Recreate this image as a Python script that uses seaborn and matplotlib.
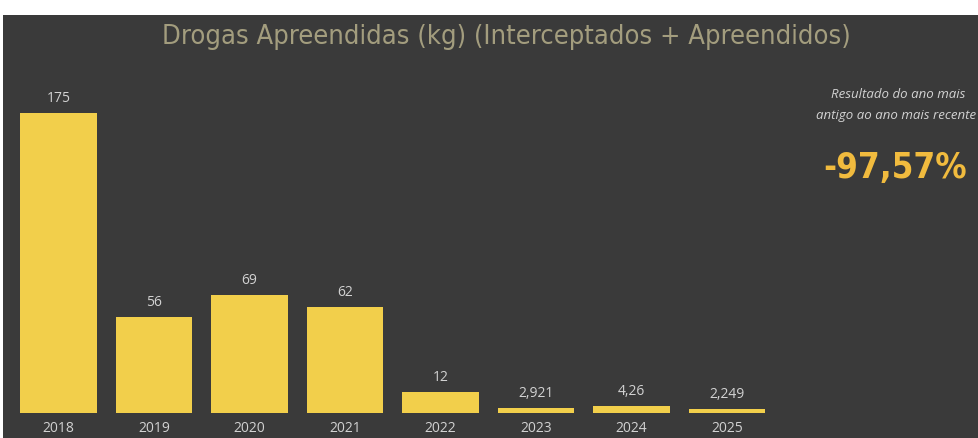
import matplotlib
matplotlib.use("Agg")
import matplotlib.pyplot as plt
from matplotlib.patches import Rectangle
import seaborn as sns
import pandas as pd

# data
anos = ["2018", "2019", "2020", "2021", "2022", "2023", "2024", "2025"]
kg = [175, 56, 69, 62, 12, 2.921, 4.26, 2.249]
rotulos = ["175", "56", "69", "62", "12", "2,921", "4,26", "2,249"]
variacao = "-97,57%"

BG = "#3a3a3a"
BAR = "#f2cf4b"
TITLE_C = "#a39d7e"
LABEL_C = "#d2d2d2"
PCT_C = "#f1bb3e"

sns.set_style("dark")
plt.rcParams["font.family"] = ["Open Sans", "DejaVu Sans"]

W, H = 979, 438
fig = plt.figure(figsize=(W / 100, H / 100), dpi=100, facecolor="white")
fig.patches.append(Rectangle((3 / W, 0), 1, (H - 15) / H, transform=fig.transFigure,
                             facecolor=BG, edgecolor="none", zorder=-10))

ax = fig.add_axes([10.75 / W, 25 / H, 764 / W, 353 / H])
ax.set_facecolor(BG)

df = pd.DataFrame({"ano": anos, "kg": kg})
sns.barplot(data=df, x="ano", y="kg", color=BAR, saturation=1, width=0.8,
            linewidth=0, edgecolor="none", ax=ax)

ax.set_ylim(0, 206)
ax.set_xlim(-0.5, 7.5)
ax.bar_label(ax.containers[0], labels=rotulos, padding=5, color=LABEL_C, fontsize=10)

ax.set_xlabel("")
ax.set_ylabel("")
ax.set_yticks([])
ax.tick_params(axis="x", length=0, pad=6, labelcolor=LABEL_C, labelsize=10)
ax.grid(False)
for s in ax.spines.values():
    s.set_visible(False)

fig.text(506 / W, 1 - 37 / H, "Drogas Apreendidas (kg) (Interceptados + Apreendidos)",
         ha="center", va="center", color=TITLE_C, fontsize=19.5,
         family=["DejaVu Sans"], fontstretch="condensed")

# right-hand KPI block
fig.text(898 / W, 1 - 95 / H, "Resultado do ano mais", ha="center", va="center",
         color=LABEL_C, fontsize=9.5, style="italic")
fig.text(896 / W, 1 - 116 / H, "antigo ao ano mais recente", ha="center", va="center",
         color=LABEL_C, fontsize=9.5, style="italic")
fig.text(895 / W, 1 - 168 / H, variacao, ha="center", va="center",
         color=PCT_C, fontsize=25, fontweight="bold",
         family=["DejaVu Sans"], fontstretch="condensed")

fig.savefig("out.png", dpi=100, facecolor=fig.get_facecolor())
